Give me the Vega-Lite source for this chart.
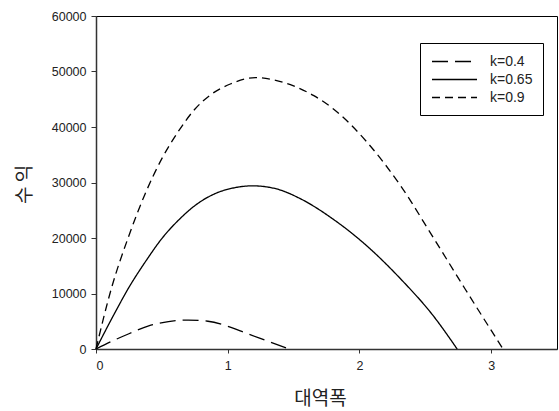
{
  "$schema": "https://vega.github.io/schema/vega-lite/v6.json",
  "width": 461,
  "height": 333,
  "autosize": "none",
  "padding": {"left": 96, "top": 16, "right": 2, "bottom": 62},
  "background": "white",
  "config": {
    "view": {"stroke": "black", "strokeWidth": 1},
    "font": "Liberation Sans"
  },
  "data": {
    "values": [
      {"series": "k=0.4", "x": 0, "y": 0},
      {"series": "k=0.4", "x": 0.13, "y": 1500},
      {"series": "k=0.4", "x": 0.25, "y": 2750},
      {"series": "k=0.4", "x": 0.4, "y": 4150},
      {"series": "k=0.4", "x": 0.55, "y": 4950},
      {"series": "k=0.4", "x": 0.7, "y": 5220},
      {"series": "k=0.4", "x": 0.85, "y": 5000},
      {"series": "k=0.4", "x": 1.0, "y": 4100},
      {"series": "k=0.4", "x": 1.15, "y": 2750},
      {"series": "k=0.4", "x": 1.3, "y": 1450},
      {"series": "k=0.4", "x": 1.466, "y": 0},
      {"series": "k=0.65", "x": 0, "y": 0},
      {"series": "k=0.65", "x": 0.127, "y": 5800},
      {"series": "k=0.65", "x": 0.25, "y": 11100},
      {"series": "k=0.65", "x": 0.38, "y": 15900},
      {"series": "k=0.65", "x": 0.5, "y": 19900},
      {"series": "k=0.65", "x": 0.63, "y": 23300},
      {"series": "k=0.65", "x": 0.76, "y": 26000},
      {"series": "k=0.65", "x": 0.9, "y": 27950},
      {"series": "k=0.65", "x": 1.05, "y": 29050},
      {"series": "k=0.65", "x": 1.19, "y": 29400},
      {"series": "k=0.65", "x": 1.37, "y": 28850},
      {"series": "k=0.65", "x": 1.55, "y": 27100},
      {"series": "k=0.65", "x": 1.8, "y": 23400},
      {"series": "k=0.65", "x": 2.06, "y": 18500},
      {"series": "k=0.65", "x": 2.31, "y": 12700},
      {"series": "k=0.65", "x": 2.56, "y": 6000},
      {"series": "k=0.65", "x": 2.742, "y": 0},
      {"series": "k=0.9", "x": 0, "y": 0},
      {"series": "k=0.9", "x": 0.119, "y": 11100},
      {"series": "k=0.9", "x": 0.245, "y": 20100},
      {"series": "k=0.9", "x": 0.372, "y": 27900},
      {"series": "k=0.9", "x": 0.5, "y": 34300},
      {"series": "k=0.9", "x": 0.625, "y": 39200},
      {"series": "k=0.9", "x": 0.75, "y": 43200},
      {"series": "k=0.9", "x": 0.87, "y": 45800},
      {"series": "k=0.9", "x": 1.02, "y": 47750},
      {"series": "k=0.9", "x": 1.21, "y": 48900},
      {"series": "k=0.9", "x": 1.35, "y": 48500},
      {"series": "k=0.9", "x": 1.5, "y": 47400},
      {"series": "k=0.9", "x": 1.65, "y": 45700},
      {"series": "k=0.9", "x": 1.8, "y": 43300},
      {"series": "k=0.9", "x": 2.06, "y": 37200},
      {"series": "k=0.9", "x": 2.31, "y": 29500},
      {"series": "k=0.9", "x": 2.56, "y": 20100},
      {"series": "k=0.9", "x": 2.8, "y": 10900},
      {"series": "k=0.9", "x": 3.09, "y": 0}
    ]
  },
  "mark": {"type": "line", "interpolate": "monotone", "color": "black", "strokeWidth": 1.3},
  "encoding": {
    "x": {
      "field": "x", "type": "quantitative",
      "scale": {"domain": [0, 3.5], "nice": false, "zero": false},
      "axis": {
        "title": "대역폭", "values": [0, 1, 2, 3], "grid": false,
        "domainColor": "#333", "domainWidth": 1.5, "tickColor": "#333", "tickSize": 4, "tickWidth": 1,
        "labelFont": "Liberation Sans", "labelFontSize": 12.5, "labelColor": "#222", "labelPadding": 6,
        "titleFont": "Noto Sans CJK KR", "titleFontSize": 19, "titleFontWeight": "normal", "titleColor": "#222",
        "titleX": 224, "titleY": 49, "titleBaseline": "middle", "titleAlign": "center"
      }
    },
    "y": {
      "field": "y", "type": "quantitative",
      "scale": {"domain": [0, 60000], "nice": false},
      "axis": {
        "title": "수 익", "values": [0, 10000, 20000, 30000, 40000, 50000, 60000], "grid": false,
        "format": "d",
        "domainColor": "#333", "domainWidth": 1.5, "tickColor": "#333", "tickSize": 5, "tickWidth": 1,
        "labelFont": "Liberation Sans", "labelFontSize": 12.5, "labelColor": "#222", "labelPadding": 5,
        "titleFont": "Noto Sans CJK KR", "titleFontSize": 19, "titleFontWeight": "normal", "titleColor": "#222",
        "titleX": -72, "titleY": 168, "titleBaseline": "middle", "titleAlign": "center", "titleAngle": -90
      }
    },
    "strokeDash": {
      "field": "series", "type": "nominal",
      "scale": {"domain": ["k=0.4", "k=0.65", "k=0.9"], "range": [[16, 7], [1, 0], [8, 5]]},
      "legend": {
        "title": null, "orient": "none", "legendX": 324, "legendY": 27,
        "padding": 10, "strokeColor": "black", "fillColor": "white",
        "symbolType": "M-3,0H3", "symbolSize": 225, "symbolOffset": 16,
        "symbolStrokeColor": "black", "symbolStrokeWidth": 1.3,
        "labelFont": "Liberation Sans", "labelFontSize": 14, "labelColor": "#222", "labelOffset": 27,
        "rowPadding": 2
      }
    }
  }
}
